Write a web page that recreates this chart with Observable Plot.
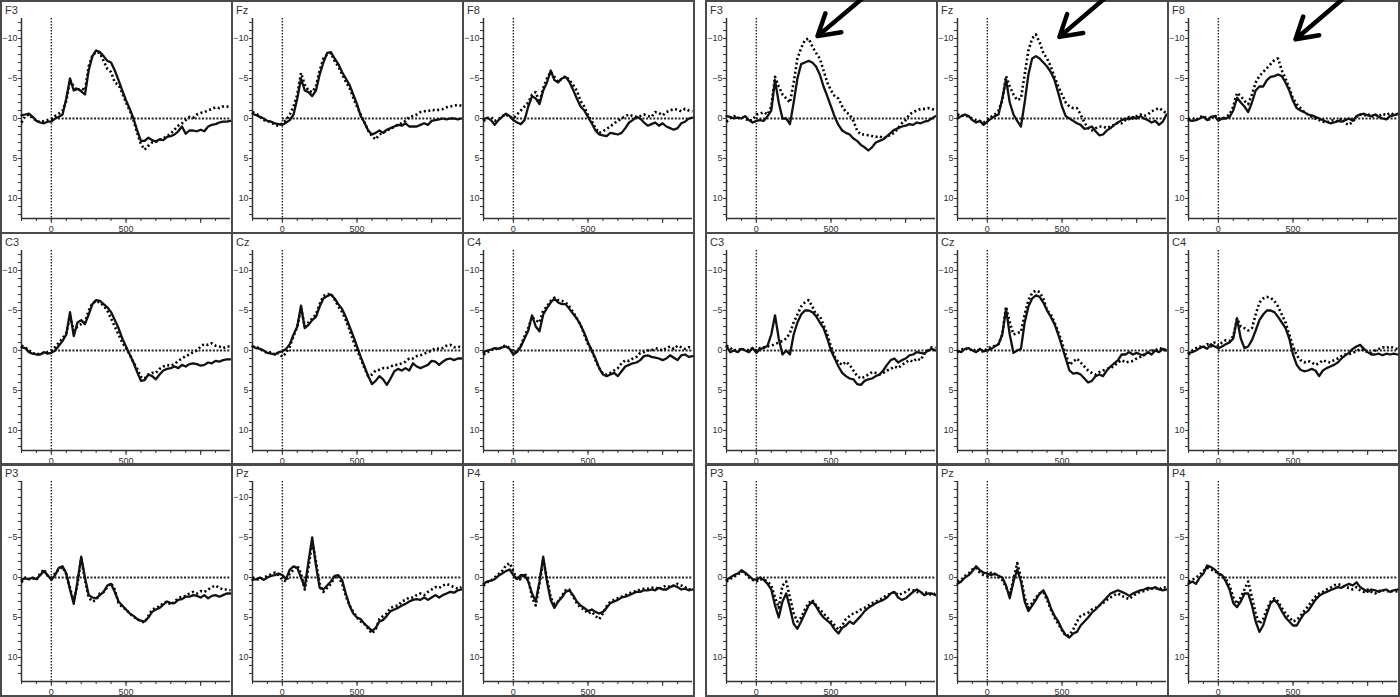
<!DOCTYPE html>
<html><head><meta charset="utf-8">
<script src="https://cdn.jsdelivr.net/npm/d3@7"></script>
<script src="https://cdn.jsdelivr.net/npm/@observablehq/plot@0.6"></script>
<style>
html,body{margin:0;padding:0;background:#fff;}
#root{position:relative;width:1400px;height:697px;overflow:hidden;font-family:"Liberation Sans",Arial,sans-serif;}
.panel{position:absolute;box-sizing:border-box;border:2px solid #4a4a4a;}
.panel svg{position:absolute;left:0;top:0;overflow:visible;}
.lbl{position:absolute;left:3px;top:3px;font-size:11px;color:#333;line-height:11px;z-index:2;}
</style></head><body><div id="root"></div>
<script>
// ---- time axis (ms) ----
const times = [-200,-175,-150,-125,-100,-75,-50,-25,0,25,50,75,100,125,150,175,200,225,250,275,300,325,350,375,400,425,450,475,500,525,550,575,600,625,650,675,700,725,750,775,800,825,850,875,900,925,950,975,1000,1025,1050,1075,1100,1125,1150,1175,1200];
const xDomain = [-200, 1200];
const xMinorTicks = [-200,-100,0,100,200,300,400,500,600,700,800,900,1000,1100];
const xMajorTicks = [0, 500, 1000];
const xLabelTicks = [0, 500];
const yMinorTicks = [-12,-11,-10,-9,-8,-7,-6,-5,-4,-3,-2,-1,0,1,2,3,4,5,6,7,8,9,10,11,12];
const yLabelTicksFull = [-10, -5, 0, 5, 10];
const yLabelTicksShort = [-5, 0, 5, 10];
const yDomainUpper = [-12.5, 12.5];
const yDomainLower = [-12, 13];
const electrodes = ["F3","Fz","F8","C3","Cz","C4","P3","Pz","P4"];

// ---- left group: solid / dotted ----
const L_F3_solid = [-0.4,-0.5,-0.6,-0.2,0.3,0.5,0.6,0.4, 0.4,0.0,-0.2,-0.5,-2.5,-5.0,-3.5,-3.7, -3.4,-3.0,-6.0,-7.8,-8.5,-8.3,-7.8,-7.2, -7.0,-6.0,-4.8,-3.5,-2.3,-1.2,0.0,1.5, 2.8,2.8,2.4,2.7,2.9,2.6,2.7,2.3, 2.2,2.0,1.6,1.0,1.9,1.5,1.5,1.6, 1.4,1.6,1.0,0.8,0.7,0.5,0.4,0.4, 0.3];
const L_F3_dotted = [0.5,-0.3,-0.5,0.0,0.2,0.5,0.3,0.2, 0.1,-0.3,-0.6,-1.0,-2.2,-4.8,-4.0,-3.5, -3.8,-3.5,-6.5,-7.9,-8.3,-8.2,-7.2,-6.2, -5.8,-4.5,-4.2,-3.2,-2.0,-1.0,0.2,1.8, 3.2,3.9,3.4,3.0,2.9,2.7,2.5,2.2, 1.9,1.4,0.9,0.6,0.2,-0.2,-0.1,-0.5, -0.7,-0.8,-1.0,-1.2,-1.4,-1.3,-1.5,-1.5, -1.4];
const L_Fz_solid = [-0.6,-0.4,-0.2,0.0,0.3,0.4,0.6,0.7, 0.8,0.5,0.2,-0.5,-2.5,-5.0,-3.5,-3.3, -2.8,-3.5,-5.5,-7.0,-8.2,-8.3,-7.5,-6.8, -5.8,-5.0,-4.2,-3.0,-1.8,-0.3,0.5,1.5, 2.0,1.8,1.5,1.8,1.4,1.2,1.0,0.8, 0.9,0.6,1.0,1.0,1.0,0.8,0.6,0.8, 0.3,0.2,0.1,0.0,0.1,0.0,0.0,0.1, 0.0];
const L_Fz_dotted = [-0.8,-0.6,-0.2,0.2,0.3,0.5,0.8,0.9, 0.6,0.2,-0.5,-1.5,-3.0,-5.7,-4.2,-3.5, -3.3,-4.0,-6.0,-7.5,-8.0,-8.2,-7.2,-6.5, -5.5,-4.6,-3.8,-2.6,-1.5,-0.5,0.5,1.5, 2.2,2.6,2.0,1.8,1.5,1.3,1.0,0.8, 0.6,0.3,-0.2,-0.3,-0.5,-0.8,-0.9,-0.9, -1.1,-1.0,-1.1,-1.2,-1.4,-1.5,-1.6,-1.7, -1.6];
const L_F8_solid = [0.1,-0.1,0.2,0.8,0.2,-0.2,-0.6,-0.3, 0.2,0.5,0.7,0.2,-1.5,-2.8,-2.5,-1.8, -3.5,-4.5,-6.0,-4.8,-4.5,-5.0,-5.2,-4.6, -3.6,-2.5,-1.5,-1.0,-0.2,0.6,1.5,2.0, 2.1,2.2,1.8,1.9,2.0,1.8,1.2,0.5, 0.2,-0.2,0.0,0.5,0.9,0.7,0.5,0.9, 0.6,1.0,1.2,1.4,1.2,0.6,0.4,0.0, -0.1];
const L_F8_dotted = [0.3,0.0,-0.2,0.3,0.1,-0.3,-0.5,-0.2, 0.0,-0.5,-1.0,-1.5,-2.0,-3.0,-3.3,-2.0, -3.8,-5.0,-5.8,-5.2,-4.6,-5.0,-5.3,-4.8, -4.2,-3.5,-2.2,-1.5,-0.4,0.3,1.2,1.8, 1.6,1.3,1.0,0.6,0.3,0.0,-0.3,-0.5, -0.3,-0.2,-0.3,-0.5,-0.3,-0.2,-0.8,-0.7, -0.4,-0.8,-1.0,-1.2,-1.1,-0.9,-1.2,-1.0, -0.9];
const L_C3_solid = [-0.4,-0.3,0.2,0.4,0.5,0.5,0.2,0.4, 0.3,0.0,-0.6,-1.2,-2.0,-4.8,-1.8,-3.5, -3.8,-3.3,-4.5,-5.8,-6.3,-6.2,-5.8,-5.4, -4.8,-3.8,-2.8,-1.5,-0.5,0.5,1.5,2.7, 3.8,3.7,3.0,3.2,3.6,3.0,2.5,2.3, 2.2,2.0,2.2,1.8,2.0,1.7,1.6,1.7, 1.9,1.8,1.5,1.6,1.3,1.4,1.2,1.1, 1.1];
const L_C3_dotted = [-0.6,-0.4,0.0,0.3,0.5,0.4,0.3,0.2, 0.0,-0.4,-1.0,-1.5,-2.2,-4.3,-2.5,-3.0, -3.3,-3.5,-5.0,-5.9,-6.2,-6.0,-5.6,-5.0, -4.0,-3.0,-2.0,-1.0,-0.3,0.5,1.5,2.3, 3.3,3.5,3.0,2.8,2.8,2.3,2.0,1.8, 1.9,1.7,1.3,1.0,0.7,0.5,0.2,0.0, -0.5,-0.8,-0.7,-0.9,-0.6,-0.5,-0.3,-0.5, -0.5];
const L_Cz_solid = [-0.5,-0.3,-0.2,0.0,0.3,0.4,0.5,0.2, 0.1,-0.2,-0.8,-2.0,-3.0,-5.6,-2.8,-3.2, -3.8,-4.2,-5.5,-6.5,-6.8,-7.0,-6.5,-5.8, -5.2,-4.2,-3.0,-1.8,-0.5,0.8,2.0,3.2, 4.2,3.8,3.2,3.6,4.3,3.5,2.6,2.3, 2.5,2.2,2.5,1.6,2.0,2.2,2.0,1.8, 1.3,1.4,1.8,1.4,1.1,1.0,1.2,1.0, 1.0];
const L_Cz_dotted = [-0.5,-0.5,-0.2,0.1,0.3,0.2,0.5,0.3, 0.8,0.3,-0.5,-1.8,-3.0,-5.3,-3.0,-3.5, -4.0,-4.5,-5.8,-6.8,-7.0,-7.1,-6.4,-5.5, -4.8,-3.8,-2.6,-1.2,0.0,1.0,2.2,3.2, 3.0,2.5,2.4,2.2,2.2,2.0,1.8,1.8, 1.6,1.4,1.0,1.0,0.7,0.6,0.4,0.2, 0.0,-0.3,-0.2,-0.3,-0.6,-0.7,-0.4,-0.5, -0.4];
const L_C4_solid = [0.2,0.0,-0.1,-0.3,-0.2,-0.4,-0.5,-0.2, 0.5,0.2,-0.5,-1.5,-2.5,-4.4,-3.0,-2.4, -4.5,-5.3,-6.0,-6.5,-6.0,-5.8,-5.8,-5.2, -4.6,-4.0,-3.2,-2.2,-1.0,0.0,1.0,2.2, 3.0,3.2,3.0,2.8,3.2,2.6,2.0,1.8, 1.6,1.5,1.2,0.7,0.6,0.8,0.9,1.0, 1.2,1.0,0.6,0.9,1.2,0.6,0.5,0.8, 0.7];
const L_C4_dotted = [0.5,0.2,0.0,-0.3,-0.1,-0.5,-0.6,-0.3, 0.2,0.1,-0.6,-1.8,-2.8,-4.2,-3.8,-3.5, -5.0,-5.5,-6.2,-6.6,-6.3,-6.2,-6.0,-5.5, -4.8,-4.0,-3.2,-2.0,-0.8,0.0,1.2,2.2, 2.9,3.0,2.8,2.5,2.2,1.6,1.2,1.3, 1.0,0.8,0.3,0.2,0.0,0.0,-0.3,-0.2, 0.0,-0.3,-0.5,-0.2,-0.6,-0.4,-0.2,-0.4, -0.3];
const L_P3_solid = [0.3,0.1,0.2,0.0,0.2,-0.3,-0.8,-0.3, 0.3,-0.3,-1.2,-1.4,-0.5,1.5,3.3,0.5, -2.6,0.0,2.2,2.5,2.6,2.2,1.8,1.0, 0.8,1.8,3.0,3.5,4.0,4.5,4.8,5.2, 5.4,5.5,5.0,4.3,4.0,3.8,3.4,3.0, 3.2,3.2,2.8,2.7,2.4,2.4,2.2,2.3, 2.5,2.2,2.6,2.3,2.2,2.4,2.2,2.0, 2.0];
const L_P3_dotted = [0.6,0.0,0.2,0.1,0.3,-0.5,-1.0,-0.2, 0.0,-0.5,-1.0,-1.3,-0.4,1.3,3.0,0.8, -2.4,0.3,2.5,3.0,2.8,2.0,1.8,1.2, 0.7,1.5,3.2,3.7,4.0,4.5,4.9,5.2, 5.5,5.6,4.8,4.0,3.8,3.6,3.2,3.0, 3.4,3.0,2.6,2.4,2.3,2.0,1.8,2.0, 1.7,1.8,1.5,1.2,1.0,1.3,1.5,1.5, 1.6];
const L_Pz_solid = [0.3,0.2,0.0,0.3,0.0,-0.2,-0.3,-0.5, -0.3,0.2,-1.0,-1.4,-1.2,0.0,1.2,-2.0, -5.0,-1.5,1.3,1.5,1.0,0.5,-0.2,-0.3, 0.3,2.0,3.5,4.5,5.0,5.2,5.8,6.2, 6.7,6.3,5.5,5.3,4.8,4.2,4.0,3.8, 3.5,3.3,3.0,2.8,2.7,2.8,2.5,2.8, 2.5,2.2,2.5,2.2,2.0,1.8,1.9,1.6, 1.5];
const L_Pz_dotted = [0.0,0.2,0.3,0.0,-0.2,-0.4,-0.6,-0.3, 0.3,0.5,-0.5,-1.0,-1.5,-0.5,1.5,-1.2, -4.5,-2.0,0.8,1.8,1.3,0.8,0.0,-0.2, 0.8,2.3,3.5,4.3,5.0,5.5,5.8,6.4, 7.0,6.5,5.2,4.8,4.5,3.8,3.6,3.5, 3.0,2.8,2.5,2.5,2.2,2.0,2.2,1.8, 1.5,1.2,1.3,1.0,0.8,1.0,1.2,1.4, 1.2];
const L_P4_solid = [0.8,0.5,0.4,0.2,-0.2,-0.5,-0.8,-1.0, -0.3,0.2,-0.3,-0.3,0.5,2.0,3.0,0.5, -2.6,0.5,2.8,3.8,3.0,2.5,1.8,1.6, 2.2,3.0,3.5,3.8,4.2,4.0,4.3,4.5, 4.3,3.8,3.2,3.0,2.8,2.5,2.4,2.2, 2.0,1.8,1.8,1.6,1.6,1.5,1.6,1.3, 1.5,1.5,1.2,1.0,1.2,1.5,1.4,1.6, 1.5];
const L_P4_dotted = [1.0,0.6,0.4,0.0,-0.4,-0.8,-1.5,-1.8, -0.8,0.3,0.2,-0.5,0.2,2.5,3.5,0.8, -2.2,0.0,2.5,3.3,3.0,2.3,1.6,1.5, 2.4,3.2,3.8,4.0,4.5,4.3,4.8,5.2, 4.5,3.6,3.0,2.8,2.6,2.4,2.2,2.0, 1.8,1.7,1.5,1.4,1.4,1.3,1.2,1.5, 1.2,1.0,1.2,1.0,0.8,1.0,1.2,1.5, 1.4];

// ---- right group: solid / dotted ----
const R_F3_solid = [-0.3,-0.2,0.0,-0.1,0.0,-0.3,0.2,0.5, 0.3,0.2,0.3,-0.3,-1.0,-4.8,-2.0,0.0, 0.0,0.7,-2.0,-5.0,-6.8,-7.0,-7.2,-7.0, -6.5,-5.5,-4.0,-2.8,-1.5,-0.2,0.8,1.5, 1.8,2.0,2.5,2.8,3.3,3.6,4.0,3.6, 3.0,2.8,2.6,2.2,1.8,1.4,1.2,1.0, 0.9,0.7,0.8,0.5,0.6,0.4,0.3,0.0, -0.3];
const R_F3_dotted = [0.4,0.0,-0.3,0.0,-0.2,0.0,0.3,0.2, -0.5,-0.6,-0.8,-0.5,-1.5,-5.2,-4.0,-3.0, -2.5,-2.0,-4.5,-7.5,-8.8,-9.8,-10.0,-9.0, -8.2,-7.5,-6.0,-4.5,-3.5,-2.8,-2.5,-1.5, -0.8,-0.5,0.3,1.5,2.0,2.0,2.1,2.2, 2.3,2.2,2.5,2.3,2.0,1.8,1.2,0.6, 0.2,-0.5,-0.8,-1.0,-1.2,-1.2,-1.3,-1.2, -1.0];
const R_Fz_solid = [0.0,-0.3,-0.5,-0.3,0.2,0.5,0.3,0.8, 0.4,0.0,-0.3,-0.5,-2.5,-4.9,-2.0,-0.5, 0.3,1.0,-2.0,-5.5,-7.5,-7.8,-7.5,-7.0, -6.5,-5.8,-4.8,-3.2,-1.5,-0.3,0.0,0.3, 0.6,0.8,1.3,1.2,1.0,1.6,2.1,2.0, 1.5,1.2,0.8,0.5,0.2,0.0,0.1,-0.2, 0.0,-0.3,0.0,0.2,0.5,0.3,0.8,0.4, -0.5];
const R_Fz_dotted = [-0.5,-0.3,-0.4,-0.2,0.0,0.2,0.3,0.5, 0.2,-0.2,-0.5,-1.0,-2.2,-5.3,-4.0,-3.0, -2.3,-2.5,-5.5,-8.5,-10.0,-10.5,-9.5,-8.2, -7.5,-6.5,-5.2,-4.0,-3.0,-2.0,-1.5,-1.3, -1.3,-0.5,0.5,1.2,1.5,1.2,1.0,1.0, 1.2,1.0,0.8,0.5,0.6,0.2,-0.2,0.0, -0.3,-0.5,-0.3,-0.5,-0.9,-1.1,-1.3,-1.0, -0.6];
const R_F8_solid = [0.2,0.3,0.2,0.0,-0.2,0.2,-0.2,-0.3, 0.3,0.0,0.0,-0.2,-1.0,-2.6,-2.0,-1.5, -0.8,-2.0,-3.5,-4.0,-4.0,-4.8,-5.2,-5.3, -5.5,-5.3,-4.5,-3.5,-2.2,-1.3,-1.0,-0.8, -0.5,-0.4,-0.2,0.0,0.2,0.4,0.6,0.5, 0.3,0.4,0.2,0.0,0.3,-0.3,-0.5,-0.6, -0.4,-0.3,-0.5,-0.2,0.0,0.1,-0.3,-0.4, -0.6];
const R_F8_dotted = [0.1,-0.1,0.2,-0.2,-0.3,0.0,0.2,-0.4, 0.0,0.0,-0.2,-0.5,-1.5,-3.2,-2.8,-2.2, -1.8,-3.0,-4.5,-5.3,-5.8,-6.3,-6.8,-7.3, -7.5,-6.0,-5.0,-3.8,-2.5,-1.8,-1.3,-0.8, -0.5,-0.2,0.0,0.2,0.4,0.5,0.3,0.2, 0.4,0.0,0.6,0.8,0.4,-0.2,-0.5,-0.3, -0.6,-0.2,-0.5,-0.3,-0.6,-0.4,-0.7,-0.5, -0.5];
const R_C3_solid = [-0.5,0.2,0.0,0.2,-0.2,0.0,0.2,-0.3, 0.3,-0.2,-0.3,-0.6,-2.0,-4.4,-1.5,0.5, 0.0,0.5,-2.0,-3.5,-4.5,-5.0,-5.0,-4.8, -4.3,-3.5,-2.8,-1.5,0.0,1.0,2.0,2.8, 3.2,3.5,3.6,4.2,4.3,3.8,3.6,3.5, 3.2,3.0,2.5,1.8,1.2,1.0,1.5,1.2, 1.0,0.6,0.5,0.2,0.3,0.4,0.0,-0.2, 0.0];
const R_C3_dotted = [-0.6,-0.3,0.0,-0.2,0.0,-0.2,0.0,-0.3, 0.0,-0.3,-0.4,-0.5,-0.6,-0.8,-1.0,-1.2, -1.5,-2.2,-3.5,-4.5,-5.5,-6.0,-6.3,-5.5, -4.5,-4.3,-3.2,-2.0,-0.5,0.8,1.5,1.8, 1.4,1.8,2.5,3.2,3.5,3.3,3.0,2.7, 2.8,3.0,2.8,2.5,2.3,2.0,2.2,1.8, 1.5,1.2,1.4,1.0,1.2,0.4,0.0,-0.4, -0.3];
const R_Cz_solid = [0.0,0.2,-0.2,-0.3,0.0,0.2,-0.2,0.1, 0.0,-0.2,-0.5,-0.8,-2.0,-5.2,-2.0,0.3, 0.0,-0.2,-3.5,-5.5,-6.5,-6.9,-6.7,-6.0, -5.0,-4.2,-3.3,-2.0,-0.5,1.0,2.5,2.9, 2.8,3.0,3.5,4.0,3.8,3.2,3.0,3.2, 2.5,2.0,1.6,1.2,0.5,0.5,0.2,0.5, 0.3,0.5,0.6,0.2,0.5,0.0,0.2,-0.2, 0.0];
const R_Cz_dotted = [0.2,-0.1,-0.3,0.0,-0.2,0.1,-0.1,0.2, -0.3,-0.4,-0.6,-0.8,-2.0,-5.5,-3.5,-2.0, -2.2,-2.3,-4.5,-6.3,-7.2,-7.5,-7.3,-6.5, -5.0,-4.5,-3.5,-2.3,-1.0,0.5,1.8,1.4, 1.0,1.5,2.0,2.5,2.8,3.0,2.7,2.5, 2.3,2.2,1.9,1.5,1.2,1.5,1.4,1.3, 1.0,0.8,0.5,0.3,0.0,0.0,-0.3,-0.2, 0.0];
const R_C4_solid = [0.3,0.2,0.0,-0.3,-0.5,-0.2,-0.8,-0.5, -0.3,-0.5,-0.8,-1.0,-1.5,-4.0,-1.5,-0.3, -0.5,-1.3,-2.5,-3.8,-4.5,-5.0,-5.0,-4.8, -4.2,-3.5,-2.8,-1.5,0.5,1.8,2.4,2.6, 2.5,2.3,2.5,3.2,2.5,2.2,2.0,1.8, 1.5,1.0,0.6,0.3,-0.2,-0.5,-0.7,-0.2, 0.2,0.5,0.5,0.4,0.6,0.4,0.5,0.4, 0.5];
const R_C4_dotted = [0.5,0.0,-0.3,-0.5,-0.3,-0.8,-0.5,-1.0, -0.6,-1.0,-1.3,-1.2,-1.8,-4.0,-3.0,-2.8, -2.5,-2.8,-4.5,-6.0,-6.5,-6.7,-6.6,-6.2, -5.5,-4.5,-3.5,-2.0,-0.5,0.6,1.2,1.5, 1.3,1.5,1.8,1.6,1.2,1.4,1.5,1.2, 1.0,0.7,0.5,0.5,0.3,0.1,-0.2,0.0, 0.2,0.3,0.0,-0.2,-0.4,-0.3,-0.5,-0.3, -0.2];
const R_P3_solid = [0.3,0.0,-0.3,-0.5,-0.9,-0.6,-0.2,0.2, 0.3,0.0,0.3,0.8,1.5,3.5,5.0,3.0, 2.0,3.8,5.8,6.4,5.5,4.5,3.5,3.0, 3.6,4.4,5.0,5.4,5.8,6.5,7.0,6.3, 6.0,5.5,5.8,5.3,4.8,4.2,3.8,3.5, 3.2,3.0,2.8,2.5,2.0,1.8,2.5,2.8, 2.6,2.2,1.8,1.5,1.8,2.2,2.0,2.0, 2.2];
const R_P3_dotted = [0.5,0.2,-0.1,-0.3,-0.8,-0.5,0.0,0.3, 0.5,0.2,0.3,0.5,1.0,2.5,3.8,1.0, 0.5,2.5,4.5,5.5,5.0,4.0,3.2,2.8, 3.5,4.0,4.5,5.0,5.5,6.0,6.5,6.0, 5.2,4.8,4.5,4.3,4.0,3.8,3.5,3.2, 3.0,2.8,2.5,2.2,2.0,1.8,2.2,2.0, 1.8,1.5,1.6,1.8,2.0,1.8,2.0,2.2, 2.0];
const R_Pz_solid = [0.8,0.5,0.0,-0.3,-0.8,-1.4,-0.9,-0.6, -0.5,-0.3,-0.5,-0.2,0.0,1.0,2.6,0.5, -1.0,0.5,3.0,4.2,3.5,2.8,2.0,1.6, 2.5,3.8,4.8,5.5,6.5,7.2,7.5,7.0, 6.8,6.0,5.5,5.0,4.4,4.0,3.5,3.0, 2.5,2.0,1.8,1.6,1.8,2.0,2.3,2.0, 1.8,1.6,1.5,1.3,1.4,1.2,1.5,1.6, 1.5];
const R_Pz_dotted = [0.5,0.3,-0.2,-0.5,-1.0,-1.2,-0.6,-0.3, -0.2,-0.6,-0.4,0.0,0.3,1.2,2.2,0.2, -1.8,0.0,2.5,3.8,3.2,2.5,2.0,1.8, 2.8,4.0,5.0,5.8,6.6,7.3,7.2,6.5, 5.5,4.8,4.6,4.4,4.0,3.8,3.5,3.2, 2.8,2.5,2.2,2.0,2.3,2.5,2.7,2.3, 2.0,1.8,1.7,1.5,1.4,1.3,1.5,1.2, 1.3];
const R_P4_solid = [0.8,0.5,0.8,0.0,-0.5,-1.5,-1.3,-1.0, -0.5,-0.3,0.5,1.5,3.2,3.7,3.0,2.0, 2.0,3.5,5.5,6.8,6.0,4.5,3.2,2.8, 3.3,4.2,5.0,5.5,6.0,6.0,5.2,4.5, 4.2,3.5,2.8,2.3,2.0,1.8,1.6,1.4, 1.2,1.3,1.0,0.8,1.0,0.6,1.2,1.5, 1.8,1.5,1.6,1.8,1.6,1.5,1.8,1.6, 1.5];
const R_P4_dotted = [0.5,0.3,0.0,-0.3,-0.8,-1.2,-1.0,-0.8, -0.5,-0.2,0.2,1.0,2.5,3.3,2.5,1.5, 0.5,2.5,4.5,5.8,5.2,4.0,3.0,2.6, 3.0,3.8,4.5,5.0,5.5,5.3,4.8,4.2, 3.6,3.0,2.4,2.0,1.8,1.5,1.3,1.0, 0.8,1.0,1.2,1.3,1.5,1.2,1.6,1.8, 1.5,1.8,2.0,1.7,1.5,1.8,1.6,1.8, 1.7];

// panels lacking the -10 label in the reference
const shortLabelPanels = ["R_C4","L_P3","L_P4","R_P3","R_Pz","R_P4"];

// arrows (annotation): tail (ms, µV) -> head (ms, µV), right-group top row
const arrowPanels = ["R_F3","R_Fz","R_F8"];
const arrowTailX = [818, 892, 925];
const arrowTailY = [-16.7, -16.7, -16.4];
const arrowHeadX = [410, 483, 517];
const arrowHeadY = [-10.3, -10.2, -9.9];

const seriesTable = {
  L_F3:[L_F3_solid,L_F3_dotted], L_Fz:[L_Fz_solid,L_Fz_dotted], L_F8:[L_F8_solid,L_F8_dotted],
  L_C3:[L_C3_solid,L_C3_dotted], L_Cz:[L_Cz_solid,L_Cz_dotted], L_C4:[L_C4_solid,L_C4_dotted],
  L_P3:[L_P3_solid,L_P3_dotted], L_Pz:[L_Pz_solid,L_Pz_dotted], L_P4:[L_P4_solid,L_P4_dotted],
  R_F3:[R_F3_solid,R_F3_dotted], R_Fz:[R_Fz_solid,R_Fz_dotted], R_F8:[R_F8_solid,R_F8_dotted],
  R_C3:[R_C3_solid,R_C3_dotted], R_Cz:[R_Cz_solid,R_Cz_dotted], R_C4:[R_C4_solid,R_C4_dotted],
  R_P3:[R_P3_solid,R_P3_dotted], R_Pz:[R_Pz_solid,R_Pz_dotted], R_P4:[R_P4_solid,R_P4_dotted]
};

// ---- layout ----
const colLeft = [0, 231, 462, 705, 936, 1167];
const rowTop = [0, 232, 463];
const panelW = 233, panelH = 234;
const innerW = panelW - 4, innerH = panelH - 4;
const root = document.getElementById("root");
const font = "'Liberation Sans', Arial, sans-serif";
const ink = "#333";

["L","R"].forEach((g, gi) => {
  electrodes.forEach((name, ei) => {
    const key = g + "_" + name;
    const [solid, dotted] = seriesTable[key];
    const row = Math.floor(ei / 3), col = ei % 3;
    const yDomain = row === 2 ? yDomainLower : yDomainUpper;
    const yLabels = shortLabelPanels.includes(key) ? yLabelTicksShort : yLabelTicksFull;
    const ai = arrowPanels.indexOf(key);
    const marks = [
      Plot.ruleX([0], {stroke: "#222", strokeWidth: 1.4, strokeDasharray: "1.4,1.6"}),
      Plot.ruleY([0], {x1: 0, x2: xDomain[1], stroke: "#222", strokeWidth: 2, strokeDasharray: "2,1.6"}),
      Plot.axisY(yMinorTicks, {tickSize: 3, tickFormat: () => "", label: null, stroke: ink}),
      Plot.axisY(yLabels, {tickSize: 3, tickPadding: 1, label: null, fill: ink, stroke: ink, fontSize: 9}),
      Plot.axisX(xMinorTicks, {tickSize: 3, tickFormat: () => "", label: null, stroke: ink}),
      Plot.axisX(xMajorTicks, {tickSize: 5, tickFormat: () => "", label: null, stroke: ink}),
      Plot.axisX(xLabelTicks, {tickSize: 0, tickPadding: 7, label: null, fill: ink, fontSize: 9}),
      Plot.ruleX([xDomain[0]], {stroke: ink, strokeWidth: 1.5}),
      Plot.ruleY([yDomain[1]], {stroke: ink, strokeWidth: 1.5}),
      Plot.lineY(dotted, {x: times, stroke: "#000", strokeWidth: 2.6, strokeDasharray: "2,2.6", strokeLinecap: "butt"}),
      Plot.lineY(solid, {x: times, stroke: "#111", strokeWidth: 2.3, strokeLinejoin: "round"})
    ];
    if (ai >= 0) {
      marks.push(Plot.arrow([ai], {
        x1: i => arrowTailX[i], y1: i => arrowTailY[i],
        x2: i => arrowHeadX[i], y2: i => arrowHeadY[i],
        stroke: "#000", strokeWidth: 4.5, headLength: 8, headAngle: 62,
        strokeLinecap: "round", strokeLinejoin: "round"
      }));
    }
    const svg = Plot.plot({
      width: innerW, height: innerH,
      marginLeft: 19, marginRight: 1, marginTop: 16, marginBottom: 14,
      style: {fontFamily: font, fontSize: "9px", color: ink, background: "transparent", overflow: "visible"},
      x: {domain: xDomain},
      y: {domain: yDomain, reverse: true},
      marks
    });
    const div = document.createElement("div");
    div.className = "panel";
    div.style.left = colLeft[gi * 3 + col] + "px";
    div.style.top = rowTop[row] + "px";
    div.style.width = panelW + "px";
    div.style.height = panelH + "px";
    const lbl = document.createElement("div");
    lbl.className = "lbl";
    lbl.textContent = name;
    div.appendChild(svg);
    div.appendChild(lbl);
    root.appendChild(div);
  });
});
</script></body></html>
